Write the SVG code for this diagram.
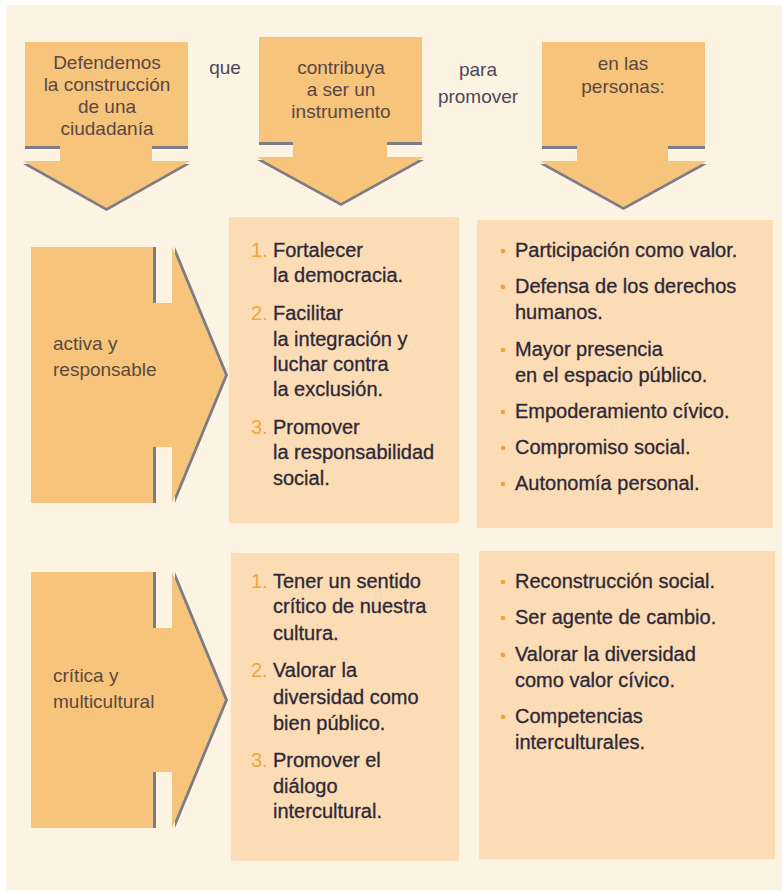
<svg xmlns="http://www.w3.org/2000/svg" width="782" height="892" viewBox="0 0 782 892">
<style>
  .bg{fill:#fdf3e3}
  .arrow{fill:#f7c47c}
  .shadow{fill:#7d7b84}
  .box{fill:#fcdcb4}
  .hd{font-family:"Liberation Sans",Arial,sans-serif;font-size:19px;fill:#5a4744;text-anchor:middle}
  .conn{font-family:"Liberation Sans",Arial,sans-serif;font-size:19px;fill:#4d4659;text-anchor:middle}
  .lbl{font-family:"Liberation Sans",Arial,sans-serif;font-size:19px;fill:#5a4a3e}
  .tx{font-family:"Liberation Sans",Arial,sans-serif;font-size:20px;fill:#2c2838;stroke:#2c2838;stroke-width:0.3}
  .num{font-family:"Liberation Sans",Arial,sans-serif;font-size:20px;fill:#f2a440}
  .dot{fill:#f2a032}
</style>
<rect x="0" y="0" width="782" height="892" fill="#ffffff"/>
<rect class="bg" x="6" y="5" width="776" height="885"/>

<g id="head-ciudadania">
  <path class="shadow" transform="translate(0,3)" d="M25,42 H188 V146 H152 V161 H190 L106.5,208 L23,161 H60 V146 H25 Z"/>
  <path class="arrow" d="M25,42 H188 V146 H152 V161 H190 L106.5,208 L23,161 H60 V146 H25 Z"/>
  <text class="hd" x="107" y="69">Defendemos</text>
  <text class="hd" x="107" y="91">la construcción</text>
  <text class="hd" x="107" y="113">de una</text>
  <text class="hd" x="107" y="135">ciudadanía</text>
</g>

<g id="label-que"><text class="conn" x="225" y="74">que</text></g>

<g id="head-instrumento">
  <path class="shadow" transform="translate(0,3)" d="M259,37 H422 V142 H387 V157 H424 L341,203 L257,157 H293 V142 H259 Z"/>
  <path class="arrow" d="M259,37 H422 V142 H387 V157 H424 L341,203 L257,157 H293 V142 H259 Z"/>
  <text class="hd" x="341" y="74">contribuya</text>
  <text class="hd" x="341" y="96">a ser un</text>
  <text class="hd" x="341" y="118">instrumento</text>
</g>

<g id="label-para"><text class="conn" x="478" y="76">para</text><text class="conn" x="478" y="103">promover</text></g>

<g id="head-personas">
  <path class="shadow" transform="translate(0,3)" d="M542,42 H705 V146 H668 V161 H707 L623.5,207 L540,161 H577 V146 H542 Z"/>
  <path class="arrow" d="M542,42 H705 V146 H668 V161 H707 L623.5,207 L540,161 H577 V146 H542 Z"/>
  <text class="hd" x="623" y="70">en las</text>
  <text class="hd" x="623" y="93">personas:</text>
</g>

<g id="row-activa">
  <path class="shadow" transform="translate(3,0)" d="M31,247 H153 V303 H172 V247 L225,375 L172,503 V447 H153 V503 H31 Z"/>
  <path class="arrow" d="M31,247 H153 V303 H172 V247 L225,375 L172,503 V447 H153 V503 H31 Z"/>
  <text class="lbl" x="53" y="350">activa y</text>
  <text class="lbl" x="53" y="376">responsable</text>
</g>

<g id="box-objetivos-1">
  <rect class="box" x="229" y="217" width="230" height="306"/>
  <text class="num" x="251" y="257">1.</text>
  <text class="tx" x="273" y="257">Fortalecer</text>
  <text class="tx" x="273" y="282">la democracia.</text>
  <text class="num" x="251" y="320">2.</text>
  <text class="tx" x="273" y="320">Facilitar</text>
  <text class="tx" x="273" y="346">la integración y</text>
  <text class="tx" x="273" y="371">luchar contra</text>
  <text class="tx" x="273" y="396">la exclusión.</text>
  <text class="num" x="251" y="434">3.</text>
  <text class="tx" x="273" y="434">Promover</text>
  <text class="tx" x="273" y="459">la responsabilidad</text>
  <text class="tx" x="273" y="485">social.</text>
</g>

<g id="box-personas-1">
  <rect class="box" x="477" y="220" width="296" height="308"/>
  <circle class="dot" cx="503" cy="251" r="2.3"/>
  <text class="tx" x="515" y="257">Participación como valor.</text>
  <circle class="dot" cx="503" cy="287" r="2.3"/>
  <text class="tx" x="515" y="293">Defensa de los derechos</text>
  <text class="tx" x="515" y="319">humanos.</text>
  <circle class="dot" cx="503" cy="350" r="2.3"/>
  <text class="tx" x="515" y="356">Mayor presencia</text>
  <text class="tx" x="515" y="382">en el espacio público.</text>
  <circle class="dot" cx="503" cy="412" r="2.3"/>
  <text class="tx" x="515" y="418">Empoderamiento cívico.</text>
  <circle class="dot" cx="503" cy="448" r="2.3"/>
  <text class="tx" x="515" y="454">Compromiso social.</text>
  <circle class="dot" cx="503" cy="484" r="2.3"/>
  <text class="tx" x="515" y="490">Autonomía personal.</text>
</g>

<g id="row-critica">
  <path class="shadow" transform="translate(3,0)" d="M31,572 H153 V628 H172 V572 L225,700 L172,828 V772 H153 V828 H31 Z"/>
  <path class="arrow" d="M31,572 H153 V628 H172 V572 L225,700 L172,828 V772 H153 V828 H31 Z"/>
  <text class="lbl" x="53" y="682">crítica y</text>
  <text class="lbl" x="53" y="708">multicultural</text>
</g>

<g id="box-objetivos-2">
  <rect class="box" x="231" y="553" width="228" height="308"/>
  <text class="num" x="251" y="588">1.</text>
  <text class="tx" x="273" y="588">Tener un sentido</text>
  <text class="tx" x="273" y="613">crítico de nuestra</text>
  <text class="tx" x="273" y="640">cultura.</text>
  <text class="num" x="251" y="677">2.</text>
  <text class="tx" x="273" y="677">Valorar la</text>
  <text class="tx" x="273" y="704">diversidad como</text>
  <text class="tx" x="273" y="730">bien público.</text>
  <text class="num" x="251" y="767">3.</text>
  <text class="tx" x="273" y="767">Promover el</text>
  <text class="tx" x="273" y="793">diálogo</text>
  <text class="tx" x="273" y="818">intercultural.</text>
</g>

<g id="box-personas-2">
  <rect class="box" x="479" y="551" width="296" height="308"/>
  <circle class="dot" cx="503" cy="582" r="2.3"/>
  <text class="tx" x="515" y="588">Reconstrucción social.</text>
  <circle class="dot" cx="503" cy="618" r="2.3"/>
  <text class="tx" x="515" y="624">Ser agente de cambio.</text>
  <circle class="dot" cx="503" cy="655" r="2.3"/>
  <text class="tx" x="515" y="661">Valorar la diversidad</text>
  <text class="tx" x="515" y="687">como valor cívico.</text>
  <circle class="dot" cx="503" cy="717" r="2.3"/>
  <text class="tx" x="515" y="723">Competencias</text>
  <text class="tx" x="515" y="749">interculturales.</text>
</g>
</svg>
